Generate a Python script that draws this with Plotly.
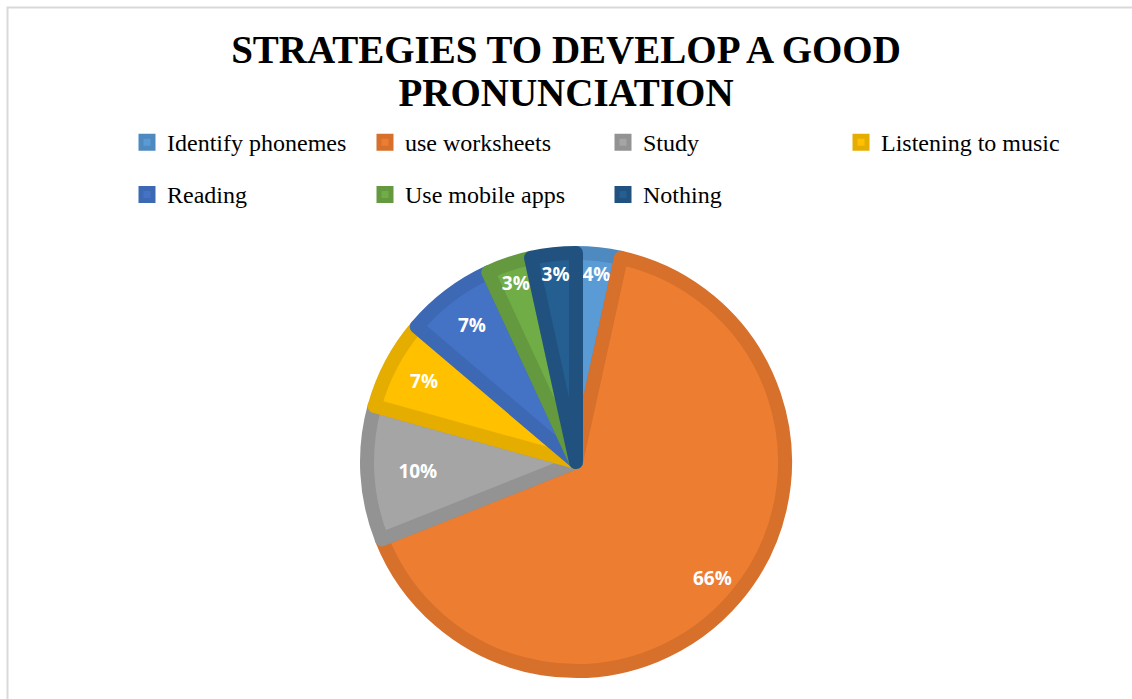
import math
import plotly.graph_objects as go

categories = ["Identify phonemes", "use worksheets", "Study", "Listening to music",
              "Reading", "Use mobile apps", "Nothing"]
counts = [1, 19, 3, 2, 2, 1, 1]
pct_labels = ["4%", "66%", "10%", "7%", "7%", "3%", "3%"]

fill_colors = ["#5B9BD5", "#ED7D31", "#A5A5A5", "#FFC000", "#4472C4", "#70AD47", "#255E91"]
edge_colors = ["#4E89C0", "#D6702B", "#939393", "#E5AD00", "#3D68B4", "#64993F", "#21527F"]

W, H = 1132, 699
cx, cy, R = 576, 462, 216
lw = 14

# largest slice label is placed like the reference (further out than plotly's default)
big = counts.index(max(counts))
slice_text = [t if i != big else "" for i, t in enumerate(pct_labels)]
total = sum(counts)
start = sum(counts[:big]) / total * 360
mid = math.radians(start + counts[big] / total * 180)
r_lab = 0.83 * R
ax_px = cx + r_lab * math.sin(mid)
ay_px = cy - r_lab * math.cos(mid)

label_font = dict(family="Open Sans", size=19, color="white", weight="bold")

fig = go.Figure()
fig.add_trace(go.Pie(
    labels=[f"<span style='font-size:24px;baseline-shift:6px'>{c}</span>" for c in categories],
    values=counts,
    text=slice_text,
    textinfo="text",
    textposition="inside",
    insidetextorientation="horizontal",
    textfont=label_font,
    sort=False,
    direction="clockwise",
    rotation=0,
    marker=dict(colors=fill_colors, line=dict(color=edge_colors, width=lw)),
    domain=dict(x=[(cx - R + lw / 2) / W, (cx + R - lw / 2) / W],
                y=[(H - cy - R + lw / 2) / H, (H - cy + R - lw / 2) / H]),
    hoverinfo="label+percent",
))

fig.update_layout(
    width=W, height=H,
    margin=dict(l=0, r=0, t=0, b=0, autoexpand=False),
    paper_bgcolor="white",
    plot_bgcolor="white",
    title=dict(text="<span style='font-size:39px'><b>STRATEGIES TO DEVELOP A GOOD</b></span><br>"
                    "<span style='font-size:39px'><b>PRONUNCIATION</b></span>",
               x=0.5, xanchor="center", y=1 - 63 / H, yanchor="middle",
               font=dict(family="Liberation Serif", size=33, color="black")),
    legend=dict(orientation="h", x=127 / W, xanchor="left", y=1 - 111 / H, yanchor="top",
                entrywidth=193, entrywidthmode="pixels",
                font=dict(family="Liberation Serif", size=38, color="black"),
                itemclick=False, itemdoubleclick=False),
    uniformtext=dict(minsize=19, mode="show"),
    annotations=[dict(x=ax_px / W, y=1 - ay_px / H, xref="paper", yref="paper",
                      text=pct_labels[big], showarrow=False, font=label_font,
                      xanchor="center", yanchor="middle")],
    shapes=[dict(type="rect", xref="paper", yref="paper",
                 x0=7.5 / W, x1=1.05, y0=-0.05, y1=1 - 7.5 / H,
                 line=dict(color="#D9D9D9", width=2), fillcolor="rgba(0,0,0,0)")],
)

fig.write_html("out.html")
